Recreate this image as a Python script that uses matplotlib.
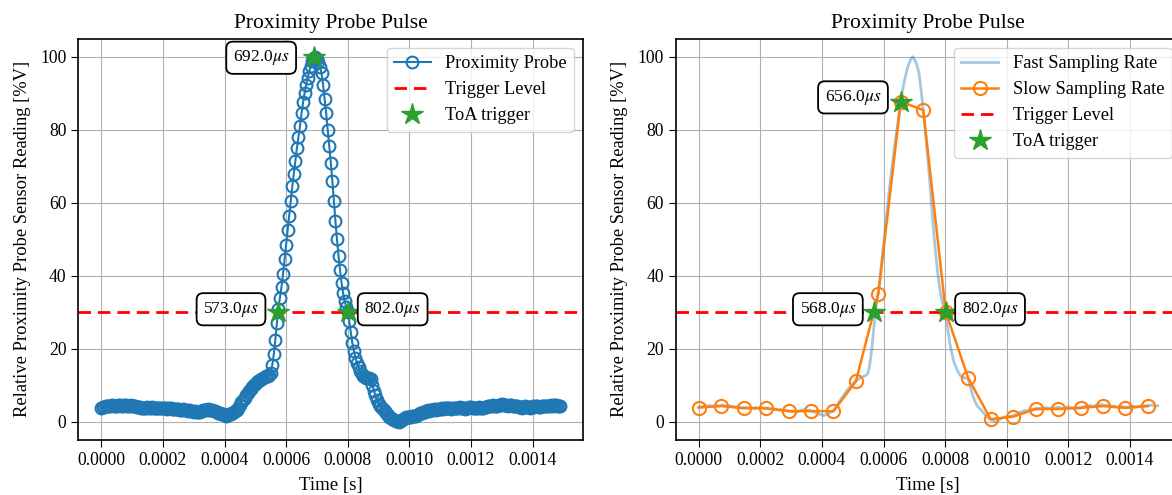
import numpy as np
import matplotlib
matplotlib.use("Agg")
import matplotlib.pyplot as plt

plt.rcParams['font.family'] = ['Liberation Serif', 'DejaVu Serif']
plt.rcParams['mathtext.fontset'] = 'stix'
plt.rcParams['font.size'] = 12.5

# ---------------- data ----------------
fast_dt_s = 5e-6  # fast sampling period
fast_values = [
    3.9, 4.1, 4.0, 4.3, 4.2, 4.4, 4.3, 4.5, 4.4, 4.3,
    4.4, 4.6, 4.5, 4.3, 4.4, 4.5, 4.6, 4.4, 4.3, 4.5,
    4.4, 4.2, 4.3, 4.1, 4.0, 4.1, 3.9, 3.8, 3.9, 3.8,
    4.0, 3.9, 3.8, 4.0, 3.9, 3.8, 3.7, 3.9, 3.8, 3.7,
    3.8, 3.9, 3.7, 3.6, 3.8, 3.7, 3.5, 3.6, 3.4, 3.5,
    3.4, 3.3, 3.2, 3.4, 3.3, 3.1, 3.0, 3.2, 3.0, 2.9,
    2.8, 2.9, 2.7, 2.8, 2.6, 2.9, 3.1, 3.3, 3.2, 3.4,
    3.3, 3.1, 3.2, 3.0, 2.9, 2.7, 2.5, 2.3, 2.1, 2.0,
    1.9, 1.7, 1.8, 2.0, 2.2, 2.4, 2.7, 2.9, 3.3, 3.9,
    4.6, 5.3, 6.0, 6.6, 7.2, 7.8, 8.4, 9.0, 9.5, 10.0,
    10.4, 10.8, 11.1, 11.4, 11.7, 12.0, 12.2, 12.4, 12.6, 12.9,
    13.4, 15.5, 18.5, 22.5, 27.0, 31.0, 34.0, 37.0, 40.5, 44.5,
    48.5, 52.5, 56.5, 60.5, 64.5, 68.0, 71.5, 75.0, 78.0, 81.0,
    84.5, 87.5, 90.0, 92.3, 94.3, 96.0, 97.5, 98.7, 99.6, 100.0,
    99.3, 98.5, 97.2, 95.5, 92.3, 88.5, 84.5, 80.0, 75.5, 71.0,
    66.0, 60.5, 55.0, 50.0, 45.5, 41.5, 38.0, 35.2, 33.0, 31.5,
    30.2, 27.5, 24.5, 21.5, 19.5, 17.5, 16.0, 15.0, 14.0, 13.2,
    12.6, 12.3, 12.1, 12.0, 11.9, 11.6, 10.2, 8.5, 7.2, 6.0,
    5.0, 4.3, 3.8, 3.4, 2.9, 2.4, 1.9, 1.4, 1.0, 0.7,
    0.5, 0.3, 0.1, 0.0, 0.2, 0.5, 0.8, 1.0, 1.2, 1.4,
    1.3, 1.4, 1.5, 1.6, 1.6, 1.8, 2.0, 2.3, 2.5, 2.7,
    2.8, 3.0, 3.1, 3.0, 3.2, 3.3, 3.4, 3.3, 3.5, 3.6,
    3.5, 3.7, 3.6, 3.8, 3.7, 3.9, 3.8, 3.6, 3.7, 3.8,
    3.9, 3.7, 3.8, 4.0, 3.9, 3.8, 3.6, 3.7, 3.9, 4.0,
    4.1, 3.9, 3.8, 3.7, 3.9, 4.0, 3.8, 3.7, 3.8, 4.0,
    4.1, 4.3, 4.2, 4.4, 4.5, 4.3, 4.2, 4.4, 4.6, 4.7,
    4.8, 4.6, 4.7, 4.5, 4.4, 4.6, 4.5, 4.3, 4.2, 4.4,
    4.2, 4.0, 4.1, 3.9, 4.0, 4.2, 4.1, 4.0, 3.9, 4.1,
    4.2, 4.1, 4.3, 4.2, 4.0, 4.1, 4.3, 4.4, 4.2, 4.3,
    4.4, 4.3, 4.5, 4.4, 4.6, 4.5, 4.4, 4.3, 4.4,
]
fast_time = np.arange(len(fast_values)) * fast_dt_s

slow_time_us = [0.0, 72.9, 145.8, 218.7, 291.6, 364.5, 437.4, 510.3, 583.2, 656.1,
                729.0, 801.9, 874.8, 947.7, 1020.6, 1093.5, 1166.4, 1239.3, 1312.2,
                1385.1, 1458.0]
slow_values = [3.9, 4.3, 3.7, 3.7, 2.9, 2.9, 2.9, 11.1, 35.0, 87.7,
               85.4, 30.1, 12.0, 0.7, 1.4, 3.5, 3.5, 3.8, 4.3, 3.8, 4.3]
slow_time = np.array(slow_time_us) * 1e-6

trigger_level = 30

fast_toa_us = [573.0, 692.0, 802.0]
fast_toa_val = [30, 100, 30]
slow_toa_us = [568.0, 656.0, 802.0]
slow_toa_val = [30, 87.5, 30]

title = "Proximity Probe Pulse"
xlabel = "Time [s]"
ylabel = "Relative Proximity Probe Sensor Reading [%V]"

# ---------------- figure ----------------
W, H = 1172, 495
fig = plt.figure(figsize=(W / 100, H / 100), dpi=100)
ax1 = fig.add_axes([78.3 / W, 1 - 440 / H, 505 / W, 401.5 / H])
ax2 = fig.add_axes([675.7 / W, 1 - 440 / H, 505 / W, 401.5 / H])

box = dict(boxstyle="round,pad=0.38", fc="white", ec="black", lw=1.3)


def annotate(ax, toas, vals, offsets):
    for t, v, (dx, dy) in zip(toas, vals, offsets):
        ax.annotate(f"{t:.1f}$\\mu s$", xy=(t * 1e-6, v), xytext=(dx, dy),
                    textcoords="offset pixels", ha="right" if dx < 0 else "left",
                    va="center", bbox=box, fontsize=12.5, zorder=5)


# left
ax1.plot(fast_time, fast_values, 'o-', color='C0', mfc='none', ms=8.5, mew=1.5,
         lw=1.5, label="Proximity Probe")
ax1.axhline(trigger_level, color='red', ls=(0, (4.5, 2.5)), lw=2, label="Trigger Level")
ax1.plot(np.array(fast_toa_us) * 1e-6, fast_toa_val, '*', color='C2', ms=16,
         ls='none', label="ToA trigger", zorder=4)
annotate(ax1, fast_toa_us, fast_toa_val, [(-19, 3), (-25, -1), (16, 3)])

# right
ax2.plot(fast_time, fast_values, '-', color='C0', alpha=0.4, lw=2,
         label="Fast Sampling Rate")
ax2.plot(slow_time, slow_values, 'o-', color='C1', mfc='none', ms=9.5, mew=1.5,
         lw=1.8, label="Slow Sampling Rate")
ax2.axhline(trigger_level, color='red', ls=(0, (4.5, 2.5)), lw=2, label="Trigger Level")
ax2.plot(np.array(slow_toa_us) * 1e-6, slow_toa_val, '*', color='C2', ms=16,
         ls='none', label="ToA trigger", zorder=4)
annotate(ax2, slow_toa_us, slow_toa_val, [(-17.5, 3), (-19.5, 5), (16, 3)])

for ax in (ax1, ax2):
    ax.grid(True)
    ax.set_title(title, fontsize=15.5, pad=7.5)
    ax.set_xlabel(xlabel, fontsize=13.5, labelpad=6)
    ax.set_ylabel(ylabel, fontsize=13.3, labelpad=6.5)
    ax.set_xticks(np.arange(0, 0.00141, 0.0002))
    ax.tick_params(labelsize=12.7, length=5)
    for s in ax.spines.values():
        s.set_linewidth(1.2)
    ax.legend(loc='upper right', fontsize=13.2)

fig.savefig("out.png", dpi=100)
